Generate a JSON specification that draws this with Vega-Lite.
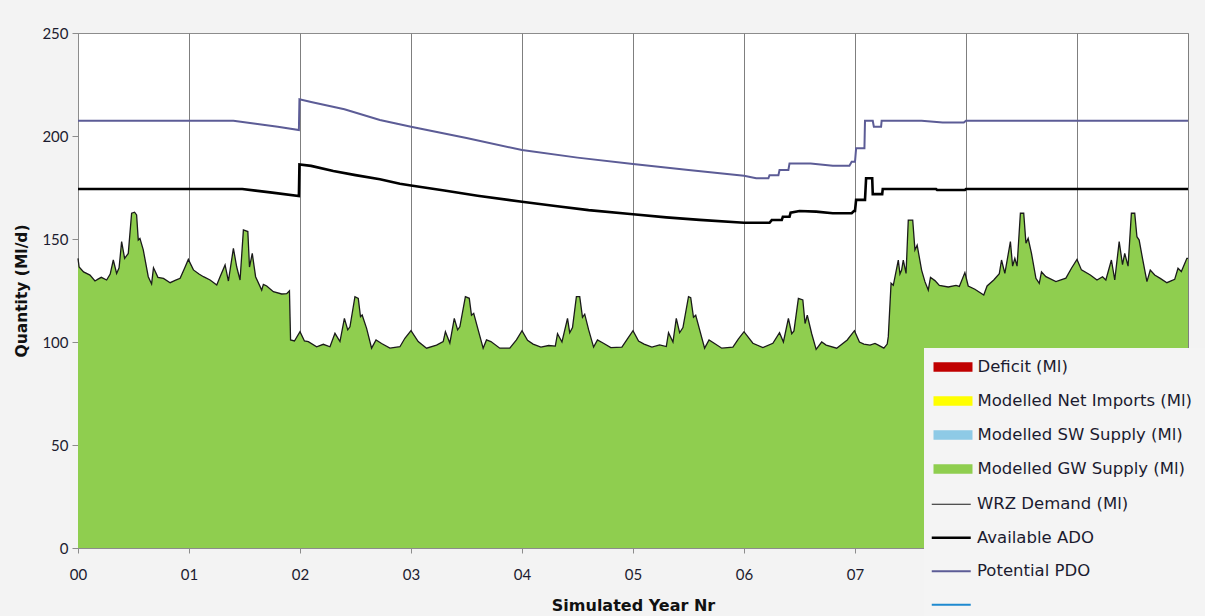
{
  "$schema": "https://vega.github.io/schema/vega-lite/v6.json",
  "width": 1110,
  "height": 515,
  "autosize": {"type": "none"},
  "padding": {"left": 78, "top": 33, "right": 17, "bottom": 68},
  "background": "#f3f3f3",
  "config": {
    "view": {"fill": "white", "stroke": "#8c8c8c", "strokeWidth": 1},
    "font": "Lato"
  },
  "datasets": {
    "demand": [
      {"x":0,"y":140.6},{"x":0.01,"y":136.4},{"x":0.05,"y":134},{"x":0.108,"y":132.5},{"x":0.153,"y":129.6},{"x":0.18,"y":130.5},{"x":0.21,"y":131.4},{"x":0.258,"y":130.1},{"x":0.29,"y":133},{"x":0.318,"y":139.8},{"x":0.348,"y":133.3},{"x":0.37,"y":136},{"x":0.393,"y":148.7},{"x":0.42,"y":140.6},{"x":0.453,"y":143},{"x":0.483,"y":162.5},{"x":0.51,"y":163},{"x":0.528,"y":161.7},{"x":0.543,"y":149.5},{"x":0.558,"y":150.3},{"x":0.588,"y":144.7},{"x":0.633,"y":131.7},{"x":0.663,"y":128.2},{"x":0.68,"y":136},{"x":0.693,"y":134.6},{"x":0.72,"y":131.4},{"x":0.77,"y":130.9},{"x":0.83,"y":128.8},{"x":0.88,"y":130},{"x":0.92,"y":130.9},{"x":0.96,"y":135.8},{"x":0.994,"y":140.1},
      {"x":1.04,"y":135},{"x":1.09,"y":133},{"x":1.13,"y":131.7},{"x":1.19,"y":130.1},{"x":1.25,"y":127.7},{"x":1.28,"y":131.7},{"x":1.325,"y":137.4},{"x":1.355,"y":129.6},{"x":1.4,"y":145.5},{"x":1.43,"y":136.4},{"x":1.46,"y":130.1},{"x":1.49,"y":154.4},{"x":1.53,"y":153.6},{"x":1.545,"y":136.4},{"x":1.57,"y":143},{"x":1.6,"y":131.7},{"x":1.655,"y":125.2},{"x":1.67,"y":128},{"x":1.7,"y":127.2},{"x":1.76,"y":124.4},{"x":1.835,"y":123.3},{"x":1.88,"y":123.5},{"x":1.905,"y":124.9},{"x":1.915,"y":101},{"x":1.95,"y":100.5},{"x":2.0,"y":105},
      {"x":2.04,"y":100.5},{"x":2.075,"y":100.2},{"x":2.15,"y":97.7},{"x":2.21,"y":98.9},{"x":2.27,"y":97.7},{"x":2.315,"y":104.2},{"x":2.36,"y":100.2},{"x":2.4,"y":111.5},{"x":2.43,"y":105.9},{"x":2.45,"y":107.4},{"x":2.495,"y":122},{"x":2.525,"y":121.2},{"x":2.545,"y":112.3},{"x":2.56,"y":113.1},{"x":2.6,"y":106.6},{"x":2.645,"y":97},{"x":2.685,"y":101},{"x":2.735,"y":99.3},{"x":2.81,"y":97},{"x":2.9,"y":97.7},{"x":2.945,"y":101.8},{"x":3.0,"y":105.5},
      {"x":3.065,"y":100.2},{"x":3.14,"y":97},{"x":3.23,"y":98.5},{"x":3.29,"y":100.2},{"x":3.31,"y":105},{"x":3.35,"y":99.5},{"x":3.39,"y":111.5},{"x":3.42,"y":105.9},{"x":3.44,"y":107.4},{"x":3.49,"y":122},{"x":3.525,"y":121.2},{"x":3.545,"y":113},{"x":3.565,"y":113.9},{"x":3.605,"y":105.9},{"x":3.65,"y":97},{"x":3.68,"y":101},{"x":3.72,"y":100.2},{"x":3.8,"y":97},{"x":3.89,"y":97},{"x":3.95,"y":101},{"x":4.0,"y":105.5},
      {"x":4.05,"y":100.8},{"x":4.1,"y":99},{"x":4.17,"y":97.5},{"x":4.24,"y":98.3},{"x":4.3,"y":98},{"x":4.32,"y":104},{"x":4.36,"y":100},{"x":4.41,"y":111.5},{"x":4.43,"y":104.5},{"x":4.455,"y":107},{"x":4.49,"y":122},{"x":4.52,"y":122},{"x":4.545,"y":112},{"x":4.565,"y":113.5},{"x":4.6,"y":106},{"x":4.645,"y":97.5},{"x":4.68,"y":101},{"x":4.73,"y":99.5},{"x":4.8,"y":97.3},{"x":4.9,"y":97.5},{"x":4.95,"y":101.5},{"x":5.0,"y":105.5},
      {"x":5.05,"y":100.5},{"x":5.1,"y":99},{"x":5.17,"y":97.5},{"x":5.24,"y":98.6},{"x":5.3,"y":97.8},{"x":5.32,"y":104.5},{"x":5.36,"y":100},{"x":5.39,"y":111.5},{"x":5.42,"y":104.5},{"x":5.45,"y":107},{"x":5.5,"y":122},{"x":5.52,"y":121.5},{"x":5.545,"y":112},{"x":5.565,"y":113},{"x":5.6,"y":106},{"x":5.645,"y":97},{"x":5.685,"y":101},{"x":5.735,"y":99.3},{"x":5.8,"y":97},{"x":5.9,"y":97.5},{"x":5.95,"y":101.5},{"x":6.0,"y":105},
      {"x":6.08,"y":99.4},{"x":6.17,"y":97.3},{"x":6.26,"y":99.4},{"x":6.32,"y":104.5},{"x":6.355,"y":100},{"x":6.4,"y":111.5},{"x":6.43,"y":104},{"x":6.45,"y":105.4},{"x":6.49,"y":121.2},{"x":6.53,"y":120.4},{"x":6.55,"y":109},{"x":6.57,"y":113},{"x":6.61,"y":104},{"x":6.65,"y":96.4},{"x":6.7,"y":100},{"x":6.74,"y":98.5},{"x":6.835,"y":97},{"x":6.93,"y":101},{"x":6.995,"y":105.5},
      {"x":7.04,"y":100},{"x":7.08,"y":99},{"x":7.135,"y":98.5},{"x":7.18,"y":99.3},{"x":7.21,"y":98.5},{"x":7.26,"y":97},{"x":7.29,"y":99},{"x":7.3,"y":102.6},{"x":7.325,"y":128.5},{"x":7.345,"y":127.5},{"x":7.39,"y":139.8},{"x":7.405,"y":133},{"x":7.42,"y":134.9},{"x":7.435,"y":139.8},{"x":7.46,"y":133.3},{"x":7.48,"y":159.2},{"x":7.52,"y":159.2},{"x":7.54,"y":144.7},{"x":7.56,"y":147},{"x":7.6,"y":134.9},{"x":7.63,"y":129.3},{"x":7.66,"y":125.2},{"x":7.68,"y":131.4},{"x":7.72,"y":129.8},{"x":7.76,"y":127.5},{"x":7.84,"y":126.7},{"x":7.91,"y":127.5},{"x":7.94,"y":127},{"x":7.99,"y":133.7},
      {"x":8.02,"y":127.2},{"x":8.08,"y":125.6},{"x":8.16,"y":122.8},{"x":8.19,"y":127.2},{"x":8.25,"y":130.1},{"x":8.3,"y":133.2},{"x":8.32,"y":139.8},{"x":8.35,"y":133.3},{"x":8.4,"y":148.7},{"x":8.42,"y":136.8},{"x":8.44,"y":140.6},{"x":8.46,"y":136.8},{"x":8.49,"y":162.5},{"x":8.52,"y":162.5},{"x":8.54,"y":147.9},{"x":8.56,"y":150.3},{"x":8.59,"y":143},{"x":8.63,"y":130.9},{"x":8.66,"y":128.5},{"x":8.68,"y":134},{"x":8.72,"y":131.7},{"x":8.81,"y":129.3},{"x":8.9,"y":131},{"x":8.95,"y":135.8},{"x":9.0,"y":140.1},
      {"x":9.04,"y":135},{"x":9.12,"y":132.5},{"x":9.18,"y":130.1},{"x":9.23,"y":131.7},{"x":9.26,"y":130.1},{"x":9.31,"y":139.8},{"x":9.34,"y":130.1},{"x":9.38,"y":148.7},{"x":9.41,"y":137.6},{"x":9.43,"y":143},{"x":9.46,"y":136.8},{"x":9.49,"y":162.5},{"x":9.52,"y":162.5},{"x":9.54,"y":151.1},{"x":9.56,"y":149.5},{"x":9.59,"y":140.6},{"x":9.63,"y":129.3},{"x":9.66,"y":134.9},{"x":9.7,"y":132.5},{"x":9.75,"y":130.9},{"x":9.81,"y":128.8},{"x":9.88,"y":130.4},{"x":9.91,"y":135.8},{"x":9.94,"y":134.2},{"x":9.99,"y":140.6},{"x":10,"y":140.6}
    ],
    "ado": [
      {"x":0,"y":174.3},{"x":1.48,"y":174.3},{"x":1.6,"y":173.5},{"x":1.75,"y":172.5},{"x":1.99,"y":170.9},{"x":1.995,"y":186.2},{"x":2.1,"y":185.5},{"x":2.3,"y":183},{"x":2.5,"y":181},{"x":2.72,"y":179},{"x":2.9,"y":176.8},{"x":3.0,"y":176},{"x":3.3,"y":173.5},{"x":3.6,"y":171},{"x":4.0,"y":168.1},{"x":4.3,"y":166},{"x":4.6,"y":164},{"x":5.0,"y":162},{"x":5.3,"y":160.5},{"x":5.6,"y":159.3},{"x":6.0,"y":157.9},{"x":6.23,"y":157.9},{"x":6.25,"y":159.2},{"x":6.34,"y":159.2},{"x":6.35,"y":160.8},{"x":6.41,"y":160.8},{"x":6.42,"y":162.8},{"x":6.5,"y":163.6},{"x":6.65,"y":163.3},{"x":6.8,"y":162.5},{"x":6.97,"y":162.5},{"x":6.99,"y":163.6},{"x":7.0,"y":163.6},{"x":7.01,"y":169},{"x":7.09,"y":169},{"x":7.1,"y":179.5},{"x":7.155,"y":179.5},{"x":7.16,"y":171.8},{"x":7.245,"y":171.8},{"x":7.25,"y":174.3},{"x":7.73,"y":174.3},{"x":7.74,"y":173.8},{"x":7.99,"y":173.8},{"x":8.0,"y":174.3},{"x":10,"y":174.3}
    ],
    "pdo": [
      {"x":0,"y":207.4},{"x":1.4,"y":207.4},{"x":1.6,"y":206},{"x":1.8,"y":204.5},{"x":1.99,"y":202.9},{"x":1.995,"y":217.8},{"x":2.1,"y":216.5},{"x":2.4,"y":213},{"x":2.72,"y":207.8},{"x":3.0,"y":204.5},{"x":3.5,"y":199},{"x":4.0,"y":193.2},{"x":4.5,"y":189.5},{"x":5.0,"y":186.4},{"x":5.5,"y":183.5},{"x":6.0,"y":180.7},{"x":6.11,"y":179.5},{"x":6.22,"y":179.5},{"x":6.23,"y":181},{"x":6.31,"y":181},{"x":6.32,"y":183.5},{"x":6.4,"y":183.5},{"x":6.41,"y":186.7},{"x":6.6,"y":186.7},{"x":6.8,"y":185.6},{"x":6.95,"y":185.6},{"x":6.97,"y":187.5},{"x":7.0,"y":187.5},{"x":7.01,"y":194},{"x":7.085,"y":194},{"x":7.09,"y":207.4},{"x":7.16,"y":207.4},{"x":7.17,"y":204.5},{"x":7.235,"y":204.5},{"x":7.24,"y":207.4},{"x":7.6,"y":207.4},{"x":7.79,"y":206.5},{"x":7.98,"y":206.5},{"x":8.0,"y":207.4},{"x":10,"y":207.4}
    ]
  },
  "encoding": {
    "x": {
      "field": "x", "type": "quantitative",
      "scale": {"domain": [0, 10], "nice": false, "zero": false},
      "axis": {
        "values": [0,1,2,3,4,5,6,7,8,9,10],
        "labelExpr": "datum.value < 10 ? '0' + datum.value : '' + datum.value",
        "grid": true, "gridColor": "#7f7f7f", "gridWidth": 1,
        "domainColor": "#8c8c8c", "tickColor": "#8c8c8c", "tickSize": 5,
        "labelPadding": 14, "labelFontSize": 15, "labelColor": "#1b1b2f", "labelFlush": false,
        "title": "Simulated Year Nr", "titleFont": "DejaVu Sans", "titleFontSize": 16, "titleFontWeight": "bold", "titleColor": "#111",
        "titleY": 57, "titleBaseline": "middle"
      }
    },
    "y": {
      "field": "y", "type": "quantitative", "stack": null,
      "scale": {"domain": [0, 250], "nice": false},
      "axis": {
        "values": [0, 50, 100, 150, 200, 250],
        "grid": false,
        "domainColor": "#8c8c8c", "tickColor": "#8c8c8c", "tickSize": 6,
        "labelPadding": 4, "labelFontSize": 15, "labelColor": "#1b1b2f",
        "title": "Quantity (Ml/d)", "titleFont": "DejaVu Sans", "titleFontSize": 15.5, "titleFontWeight": "bold", "titleColor": "#111",
        "titleX": -56.5, "titleBaseline": "middle"
      }
    }
  },
  "layer": [
    {
      "data": {"name": "demand"},
      "mark": {"type": "area", "opacity": 1},
      "encoding": {
        "fill": {
          "datum": "Modelled GW Supply (Ml)", "type": "nominal",
          "scale": {
            "domain": ["Deficit (Ml)", "Modelled Net Imports (Ml)", "Modelled SW Supply (Ml)", "Modelled GW Supply (Ml)"],
            "range": ["#c00000", "#ffff00", "#8ecae6", "#8fce4f"]
          },
          "legend": {
            "title": null, "orient": "none", "legendX": 846, "legendY": 315,
            "direction": "vertical",
            "fillColor": "#f4f4f4", "padding": 9, "rowPadding": 15,
            "labelFont": "DejaVu Sans", "labelFontSize": 16.5, "labelColor": "#1b1b2f", "labelLimit": 500,
            "labelExpr": "datum.label + '\u2800\u2800\u2800'",
            "symbolType": "M-2,-0.5H2V0.5H-2Z", "symbolSize": 380, "symbolOffset": 10, "labelOffset": 14.5,
            "symbolStrokeWidth": 0, "symbolOpacity": 1
          }
        }
      }
    },
    {
      "data": {"name": "demand"},
      "mark": {"type": "line", "strokeWidth": 1.3},
      "encoding": {
        "stroke": {
          "datum": "WRZ Demand (Ml)", "type": "nominal",
          "scale": {
            "domain": ["WRZ Demand (Ml)", "Available ADO", "Potential PDO", "\u2800"],
            "range": ["#1a1a1a", "#000000", "#5c5c96", "#1f8ad0"]
          },
          "legend": {
            "title": null, "orient": "none", "legendX": 846, "legendY": 454,
            "direction": "vertical",
            "fillColor": "#f4f4f4", "padding": 9, "rowPadding": 16.5,
            "labelFont": "DejaVu Sans", "labelFontSize": 16.5, "labelColor": "#1b1b2f", "labelLimit": 500,
            "labelExpr": "datum.label + '\u2800\u2800\u2800\u2800\u2800\u2800\u2800\u2800\u2800\u2800\u2800\u2800\u2800\u2800\u2800\u2800\u2800\u2800\u2800\u2800\u2800\u2800\u2800\u2800\u2800\u2800\u2800\u2800\u2800\u2800'",
            "symbolType": "M-2,0H2", "symbolSize": 380, "symbolOffset": 10, "labelOffset": 17.5,
            "symbolStrokeWidth": 2, "symbolOpacity": 1,
            "encode": {
              "symbols": {
                "update": {
                  "strokeWidth": {"signal": "datum.index == 1 ? 2.6 : datum.index == 0 ? 1.2 : 2"}
                }
              }
            }
          }
        }
      }
    },
    {
      "data": {"name": "ado"},
      "mark": {"type": "line", "strokeWidth": 2.6},
      "encoding": {"stroke": {"datum": "Available ADO", "type": "nominal"}}
    },
    {
      "data": {"name": "pdo"},
      "mark": {"type": "line", "strokeWidth": 2},
      "encoding": {"stroke": {"datum": "Potential PDO", "type": "nominal"}}
    }
  ]
}
